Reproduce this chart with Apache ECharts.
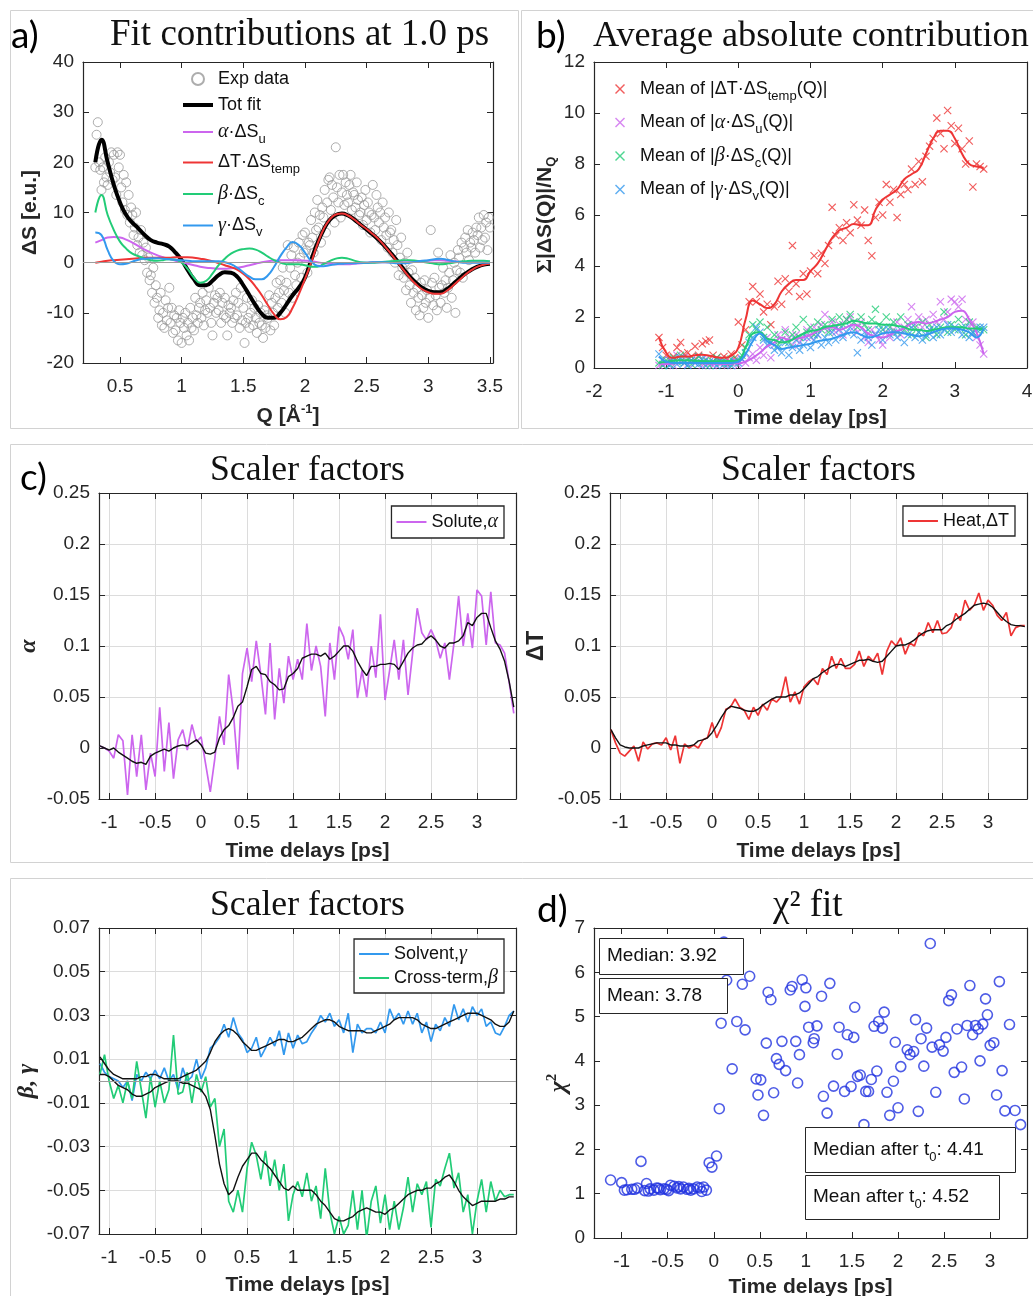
<!DOCTYPE html>
<html><head><meta charset="utf-8">
<script src="https://cdn.jsdelivr.net/npm/echarts@6/dist/echarts.min.js"></script>
<style>html,body{margin:0;padding:0;background:#fff}#chart{width:1033px;height:1296px}</style>
</head><body><div id="chart"></div>
<script>
// ---------------- DATA ----------------
// Panel a: experimental points (Q, dS)
const expQ = [
0.3,0.31,0.32,0.33,0.34,0.35,0.36,0.37,0.38,0.39,
0.4,0.41,0.42,0.43,0.44,0.45,0.46,0.47,0.48,0.49,
0.5,0.51,0.52,0.53,0.54,0.55,0.56,0.57,0.58,0.59,
0.6,0.61,0.62,0.63,0.64,0.65,0.66,0.67,0.68,0.69,
0.7,0.71,0.72,0.73,0.74,0.75,0.76,0.77,0.78,0.79,
0.8,0.81,0.82,0.83,0.84,0.85,0.86,0.87,0.88,0.89,
0.9,0.91,0.92,0.93,0.94,0.95,0.96,0.97,0.98,0.99,
1,1.01,1.02,1.03,1.04,1.05,1.06,1.07,1.08,1.09,
1.1,1.11,1.12,1.13,1.14,1.15,1.16,1.17,1.18,1.19,
1.2,1.21,1.22,1.23,1.24,1.25,1.26,1.27,1.28,1.29,
1.3,1.31,1.32,1.33,1.34,1.35,1.36,1.37,1.38,1.39,
1.4,1.41,1.42,1.43,1.44,1.45,1.46,1.47,1.48,1.49,
1.5,1.51,1.52,1.53,1.54,1.55,1.56,1.57,1.58,1.59,
1.6,1.61,1.62,1.63,1.64,1.65,1.66,1.67,1.68,1.69,
1.7,1.71,1.72,1.73,1.74,1.75,1.76,1.77,1.78,1.79,
1.8,1.81,1.82,1.83,1.84,1.85,1.86,1.87,1.88,1.89,
1.9,1.91,1.92,1.93,1.94,1.95,1.96,1.97,1.98,1.99,
2,2.01,2.02,2.03,2.04,2.05,2.06,2.07,2.08,2.09,
2.1,2.11,2.12,2.13,2.14,2.15,2.16,2.17,2.18,2.19,
2.2,2.21,2.22,2.23,2.24,2.25,2.26,2.27,2.28,2.29,
2.3,2.31,2.32,2.33,2.34,2.35,2.36,2.37,2.38,2.39,
2.4,2.41,2.42,2.43,2.44,2.45,2.46,2.47,2.48,2.49,
2.5,2.51,2.52,2.53,2.54,2.55,2.56,2.57,2.58,2.59,
2.6,2.61,2.62,2.63,2.64,2.65,2.66,2.67,2.68,2.69,
2.7,2.71,2.72,2.73,2.74,2.75,2.76,2.77,2.78,2.79,
2.8,2.81,2.82,2.83,2.84,2.85,2.86,2.87,2.88,2.89,
2.9,2.91,2.92,2.93,2.94,2.95,2.96,2.97,2.98,2.99,
3,3.01,3.02,3.03,3.04,3.05,3.06,3.07,3.08,3.09,
3.1,3.11,3.12,3.13,3.14,3.15,3.16,3.17,3.18,3.19,
3.2,3.21,3.22,3.23,3.24,3.25,3.26,3.27,3.28,3.29,
3.3,3.31,3.32,3.33,3.34,3.35,3.36,3.37,3.38,3.39,
3.4,3.41,3.42,3.43,3.44,3.45,3.46,3.47,3.48,3.49,
3.5];
const expS = [
19,25.5,28,20,18.5, 14.5,19,16,21,17,
15.5,20,18,22,16.5, 21.5,17,13.5,22,19,
21.5,15,12,17.5,10.5, 16,9.5,13.5,8,11,
9.5,5.5,7,10,3.5, 5,2,6.5,1.5,4,
0.5,3,-2,1,-3.5, -2.5,-6,-1,-8,-4.5,
-7,-11,-9.5,-6,-12.5, -10,-13,-7.5,-11.5,-9,
-5,-12,-9,-14,-10.5, -13.5,-11,-15.5,-9.5,-12,
-16,-11,-13,-10,-14.5, -12,-15.5,-9,-13,-11,
-13.5,-7,-10.5,-12,-9, -8,-11,-6,-12.5,-9.5,
-7.5,-10,-5,-9,-12, -14.5,-8,-6.5,-10,-7,
-9.5,-6,-12,-8,-10.5, -7,-11,-14.5,-8.5,-10,
-9,-12,-7.5,-11,-6, -10.5,-8,-13,-5,-11.5,
-9,-16,-12,-7,-11, -13,-10,-7.5,-12.5,-9,
-11,-14,-8.5,-12,-10, -12.5,-15,-9.5,-13,-10.5,
-11,-6.5,-13.5,-8,-10, -12.5,-7,-4,-9,-6,
-3.5,-8,-1,-5.5,-10, -4,3.5,-6,-1,1.5,
-7,3,-2.5,-4.5,0, 4,1,-3,5.5,2,
6,2.5,-2,4,3.5, 8.5,5,2,10,6.5,
12.5,7,9.5,4,11, 9,14.5,6,12,16.5,
17,10.5,15.5,13,8, 23,15,12,17.5,9,
14,17.5,11.5,16,13.5, 12,15.5,17.5,10.5,14,
13.5,11,16,12.5,9.5, 10,13,7.5,11.5,14.5,
8.5,12,10,6,9.5, 15.5,9,6.5,13.5,11,
8,10,4.5,12,7, 9,5.5,3,10,6,
6.5,2,4.5,0,8.5, 3.5,-2.5,1,5,-1,
-3,0,-5.5,2,-2, -4.5,-8,-1.5,-6,-3,
-9.5,-5,-7,-10.5,-4, -6.5,-9,-3.5,-8,-5.5,
-11,-7,6.5,-4,-8.5, -3,-6.5,-9.5,2,-5,
-8,-4.5,-1,-6,-3.5, -9,-5,-2,1.5,-7,
-3.5,0,-10,-1.5,2.5, 1,-2,4,-3,3,
5,2,6.5,0.5,4, 3,6,4.5,2,7,
5.5,9,3,7,4.5, 9.5,5,8,2.5,9,
7];

// Panel a: fit contributions on Q grid
const fitQ = [
0.3,0.35,0.4,0.45,0.5,0.55,0.6,0.65,0.7,0.75,
0.8,0.85,0.9,0.95,1,1.05,1.1,1.15,1.2,1.25,
1.3,1.35,1.4,1.45,1.5,1.55,1.6,1.65,1.7,1.75,
1.8,1.85,1.9,1.95,2,2.05,2.1,2.15,2.2,2.25,
2.3,2.35,2.4,2.45,2.5,2.55,2.6,2.65,2.7,2.75,
2.8,2.85,2.9,2.95,3,3.05,3.1,3.15,3.2,3.25,
3.3,3.35,3.4,3.45,3.5];
const totFit = [
20,24.5,20,15.5,12,9.5,8,6.8,5.5,4.5,
4,3.7,3.2,2,0.5,-1.5,-3.3,-4.5,-4.5,-3.6,
-2.5,-1.9,-2,-2.8,-4.5,-6.5,-8.5,-10.2,-11,-11,
-10,-8.3,-6.5,-5,-3,0.5,3.8,6.5,8.5,9.5,
9.8,9.4,8.6,7.6,6.6,5.6,4.5,3.2,1.8,0.3,
-1.3,-2.8,-4,-5,-5.6,-5.9,-5.9,-5.3,-4.3,-3.2,
-2.2,-1.4,-0.8,-0.4,-0.2];
const fitAlpha = [
4,4.5,5,5.1,5,4.6,4,3.3,2.6,2,
1.5,1.1,0.7,0.4,0.1,-0.2,-0.5,-0.8,-1,-1.1,
-1.2,-1.2,-1.1,-1,-0.8,-0.5,-0.2,0.1,0.3,0.4,
0.5,0.5,0.5,0.5,0.4,0.3,0.1,-0.1,-0.2,-0.3,
-0.3,-0.3,-0.2,-0.1,0,0.1,0.1,0.1,0.1,0.1,
0.1,0.1,0.2,0.3,0.4,0.5,0.5,0.4,0.3,0.2,
0.1,0.1,0.1,0.1,0.1];
const fitTemp = [
0,0.2,0.4,0.5,0.6,0.7,0.8,0.9,1,1,
1,1,1,1.1,1.1,1.1,1,0.8,0.6,0.3,
-0.1,-0.5,-0.9,-1.4,-2.2,-3.3,-4.8,-6.5,-8.5,-10.3,
-11.3,-10.9,-9,-6.3,-3.3,0,3.6,6.6,8.6,9.6,
9.8,9.4,8.6,7.6,6.7,5.7,4.6,3.2,1.7,0.1,
-1.5,-3,-4.3,-5.3,-5.9,-6.2,-6.2,-5.6,-4.6,-3.5,
-2.4,-1.5,-0.8,-0.4,-0.2];
const fitBeta = [
10,13.5,9.5,6.5,4.2,2.8,1.8,1.3,0.8,0.5,
0.4,0.5,0.7,0.6,0,-1.3,-3,-4,-3.6,-2.2,
-0.5,0.8,1.8,2.4,2.7,2.8,2.6,2,1.2,0.5,
0,-0.3,-0.3,-0.3,-0.5,-0.8,-0.8,-0.3,0.3,0.8,
1,0.8,0.4,0.1,0,0,0.1,0.2,0.3,0.4,
0.5,0.5,0.4,0.2,0,-0.2,-0.3,-0.2,0,0.2,
0.3,0.4,0.4,0.4,0.3];
const fitGamma = [
6,5.5,2.5,0.3,-0.3,-0.2,0.2,0.6,0.8,0.9,
0.9,0.8,0.7,0.6,0.5,0.4,0.3,0.3,0.3,0.3,
0.3,0.1,-0.3,-1,-1.9,-2.8,-3.3,-3.3,-2.5,-0.8,
1.3,3,4.1,3.5,2,0.3,-0.6,-0.7,-0.5,-0.3,
-0.2,-0.1,-0.1,0,0,0.1,0.1,0.1,0,-0.1,
-0.1,0,0.2,0.4,0.5,0.7,0.8,0.6,0.3,0.1,
0,0,0,0,0];

// Time grid (ps) for panels b, c and the beta/gamma panel
const tGrid = [
-1.1,-1.05,-1,-0.95,-0.9,-0.85,-0.8,-0.75,-0.7,-0.65,
-0.6,-0.55,-0.5,-0.45,-0.4,-0.35,-0.3,-0.25,-0.2,-0.15,
-0.1,-0.05,0,0.05,0.1,0.15,0.2,0.25,0.3,0.35,
0.4,0.45,0.5,0.55,0.6,0.65,0.7,0.75,0.8,0.85,
0.9,0.95,1,1.05,1.1,1.15,1.2,1.25,1.3,1.35,
1.4,1.45,1.5,1.55,1.6,1.65,1.7,1.75,1.8,1.85,
1.9,1.95,2,2.05,2.1,2.15,2.2,2.25,2.3,2.35,
2.4,2.45,2.5,2.55,2.6,2.65,2.7,2.75,2.8,2.85,
2.9,2.95,3,3.05,3.1,3.15,3.2,3.25,3.3,3.35,
3.4];

// Panel b: mean absolute contributions (crosses)
const bTemp = [
1.2,0.8,0.5,0.3,0.45,0.8,1.0,0.55,0.6,0.45,
0.85,0.5,0.95,1.05,1.1,0.5,0.4,0.3,0.45,0.35,
0.55,0.4,1.8,0.9,1.5,2.6,3.2,2.6,2.9,2.2,
2.5,1.7,2.4,3.4,2.5,3.5,3.0,4.8,3.3,2.8,
3.7,2.9,3.8,4.4,3.7,4.5,4.1,4.8,6.3,5.2,
5.5,5.0,5.7,5.3,6.4,5.8,5.6,6.2,5.0,4.4,
5.9,6.5,6.0,7.2,6.5,7.0,5.9,6.8,7.2,7.0,
7.8,7.2,8.1,7.3,8.3,8.7,9.0,9.8,9.2,8.6,
10.1,9.5,8.8,9.4,8.6,8.0,8.9,7.1,8.0,7.9,
7.8];
const bSolute = [
0.1,0.15,0.2,0.3,0.1,0.5,0.25,0.4,0.15,0.3,
0.2,0.45,0.1,0.35,0.2,0.1,0.3,0.15,0.25,0.1,
0.2,0.3,0.1,0.35,0.2,0.4,0.55,0.3,0.8,0.5,
1.2,0.4,0.9,1.3,1.1,1.5,1.2,0.9,1.3,1.0,
1.2,1.5,1.2,1.6,1.3,1.7,2.1,1.5,1.8,1.4,
1.7,1.3,1.9,2.0,1.6,1.4,1.8,1.2,1.0,1.5,
1.3,1.1,0.9,1.4,1.2,1.5,1.8,1.3,1.6,1.9,
2.4,1.7,2.0,1.6,1.9,1.5,2.1,1.8,2.6,1.9,
2.2,2.7,2.6,2.4,2.7,1.9,1.6,1.8,1.2,0.9,
0.55];
const bCross = [
0.2,0.1,0.3,0.15,0.4,0.25,0.5,0.2,0.35,0.15,
0.3,0.45,0.2,0.3,0.1,0.25,0.4,0.2,0.3,0.15,
0.35,0.2,0.3,0.5,0.8,1.3,1.7,1.5,1.8,1.2,
1.6,1.0,1.3,0.9,1.1,1.4,1.0,1.3,1.6,1.2,
1.9,1.4,1.6,1.3,1.8,1.5,1.7,1.4,1.9,1.6,
2.0,1.7,1.9,2.1,1.8,1.6,2.0,1.7,1.5,1.9,
2.3,1.7,1.5,2.0,1.6,1.8,1.4,2.0,1.5,1.7,
1.3,1.6,1.4,1.8,1.2,1.7,1.5,1.3,1.6,2.2,
1.4,1.7,1.5,1.9,1.6,1.3,1.8,1.4,1.6,1.5,
1.5];
const bSolvent = [
0.55,0.3,0.2,0.1,0.3,0.15,0.4,0.2,0.1,0.3,
0.2,0.15,0.35,0.1,0.25,0.2,0.1,0.3,0.15,0.2,
0.1,0.25,0.2,0.35,0.6,1.0,1.2,1.6,1.4,1.1,
0.9,1.0,0.7,0.8,0.6,1.0,0.5,0.8,1.1,0.7,
0.9,1.2,0.8,1.1,1.3,0.9,1.2,1.0,1.4,1.1,
1.5,1.2,1.4,1.6,1.3,0.6,1.1,1.4,1.2,0.9,
1.3,1.5,1.1,1.6,1.3,1.4,1.2,1.5,1.0,1.3,
1.6,1.2,1.4,1.1,1.3,1.5,1.2,1.6,1.3,1.5,
1.7,1.4,1.6,1.5,1.3,1.6,1.2,1.4,1.5,1.6,
1.6];
// Panel b: smoothed curves (coarser time grid)
const tCoarse = [
-1.1,-1,-0.9,-0.8,-0.7,-0.6,-0.5,-0.4,-0.3,-0.2,
-0.1,0,0.1,0.2,0.3,0.4,0.5,0.6,0.7,0.8,
0.9,1,1.1,1.2,1.3,1.4,1.5,1.6,1.7,1.8,
1.9,2,2.1,2.2,2.3,2.4,2.5,2.6,2.7,2.8,
2.9,3,3.1,3.2,3.3,3.4];
const bTempSm = [
1.2,0.6,0.4,0.45,0.45,0.5,0.52,0.48,0.42,0.4,
0.48,0.8,1.9,2.65,2.5,2.35,2.5,3.0,3.3,3.45,
3.45,3.8,4.1,4.6,5.1,5.4,5.5,5.65,5.6,5.6,
6.2,6.6,6.8,7.0,7.4,7.6,7.8,8.4,9.0,9.3,
9.3,9.0,8.4,8.0,7.9,7.85];
const bSoluteSm = [
0.15,0.15,0.18,0.2,0.2,0.2,0.18,0.17,0.17,0.16,
0.17,0.18,0.25,0.4,0.6,0.85,1.0,1.2,1.1,1.15,
1.2,1.3,1.45,1.55,1.6,1.5,1.6,1.7,1.6,1.35,
1.25,1.2,1.3,1.45,1.55,1.75,1.8,1.75,1.8,1.9,
2.0,2.2,2.25,1.9,1.4,0.55];
const bCrossSm = [
0.2,0.25,0.28,0.3,0.3,0.28,0.27,0.26,0.26,0.27,
0.27,0.3,0.8,1.35,1.4,1.15,1.1,1.0,1.05,1.2,
1.35,1.45,1.5,1.6,1.65,1.7,1.75,1.85,1.8,1.75,
1.75,1.7,1.7,1.65,1.6,1.5,1.5,1.45,1.5,1.55,
1.6,1.6,1.6,1.55,1.55,1.5];
const bSolventSm = [
0.45,0.25,0.2,0.2,0.2,0.2,0.2,0.2,0.2,0.2,
0.2,0.25,0.55,1.05,1.35,1.05,0.9,0.75,0.8,0.85,
0.9,0.95,1.05,1.1,1.15,1.25,1.35,1.4,1.3,1.2,
1.25,1.35,1.4,1.4,1.35,1.3,1.25,1.3,1.4,1.5,
1.55,1.55,1.5,1.4,1.2,1.55];

// Panel c: scaler factors alpha and dT (raw and running average)
const alphaRaw = [
0.002,0,-0.003,-0.01,0.013,0.007,-0.046,0.013,-0.028,0.013,
-0.041,-0.005,-0.028,0.04,-0.023,0.025,-0.03,0.008,0.018,-0.002,
0.023,0.006,0.011,-0.016,-0.043,-0.01,0.031,0.003,0.072,0.036,
-0.021,0.073,0.098,0.065,0.105,0.072,0.033,0.103,0.028,0.078,
0.044,0.09,0.067,0.087,0.067,0.122,0.076,0.1,0.08,0.031,
0.103,0.067,0.119,0.109,0.087,0.116,0.049,0.076,0.05,0.1,
0.069,0.131,0.047,0.076,0.106,0.067,0.106,0.052,0.093,0.137,
0.113,0.106,0.116,0.106,0.088,0.103,0.067,0.103,0.149,0.1,
0.132,0.098,0.155,0.149,0.101,0.153,0.103,0.101,0.093,0.064,
0.034];
const alphaAvg = [
0.002,0,-0.002,0,-0.004,-0.007,-0.01,-0.013,-0.015,-0.014,
-0.016,-0.008,-0.005,-0.003,-0.001,-0.003,0,0.002,0.003,0.002,
0.005,0.008,0.003,-0.005,-0.006,-0.004,0.01,0.018,0.022,0.03,
0.041,0.045,0.06,0.077,0.08,0.073,0.072,0.065,0.062,0.057,
0.058,0.07,0.073,0.078,0.088,0.09,0.092,0.092,0.09,0.093,
0.087,0.09,0.095,0.1,0.1,0.095,0.085,0.077,0.071,0.08,
0.08,0.082,0.082,0.083,0.082,0.077,0.085,0.093,0.098,0.101,
0.102,0.107,0.11,0.106,0.1,0.098,0.103,0.103,0.105,0.11,
0.123,0.12,0.128,0.132,0.132,0.118,0.105,0.097,0.085,0.065,
0.04];
const dTRaw = [
0.018,0.005,-0.005,-0.008,-0.003,0.002,-0.013,0.006,-0.001,0.004,
0.005,0.003,0.01,-0.002,0.012,-0.015,0.004,0,0.003,0,
0.008,0.01,0.025,0.01,0.02,0.038,0.04,0.048,0.04,0.037,
0.028,0.04,0.032,0.043,0.037,0.048,0.045,0.05,0.07,0.045,
0.055,0.043,0.06,0.065,0.068,0.062,0.078,0.072,0.09,0.078,
0.088,0.078,0.078,0.082,0.095,0.08,0.09,0.085,0.093,0.072,
0.095,0.105,0.1,0.108,0.092,0.103,0.1,0.113,0.11,0.123,
0.113,0.125,0.112,0.113,0.118,0.132,0.125,0.145,0.135,0.14,
0.152,0.135,0.145,0.14,0.13,0.125,0.133,0.11,0.118,0.12,
0.12];
const dTAvg = [
0.018,0.01,0.003,0.001,0,0,0,0.002,0.003,0.004,
0.005,0.005,0.005,0.003,0.003,0.002,0.002,0.002,0.003,0.007,
0.008,0.01,0.015,0.022,0.03,0.037,0.041,0.04,0.039,0.037,
0.036,0.036,0.038,0.042,0.045,0.048,0.05,0.05,0.05,0.052,
0.052,0.054,0.058,0.063,0.068,0.07,0.074,0.077,0.08,0.082,
0.082,0.08,0.082,0.084,0.086,0.086,0.087,0.085,0.084,0.085,
0.09,0.095,0.1,0.101,0.101,0.103,0.106,0.11,0.113,0.115,
0.116,0.116,0.116,0.12,0.122,0.126,0.129,0.132,0.136,0.14,
0.141,0.142,0.141,0.138,0.133,0.128,0.124,0.121,0.12,0.12,
0.119];
// Panel beta/gamma
const gammaRaw = [
0.008,0.004,0.002,0.001,0,-0.003,0,-0.009,0.003,0,
0.004,0.001,0.005,0.001,0.006,0,0.003,-0.004,0.006,0,
0.002,0.01,0.001,0.006,0.015,0.017,0.02,0.026,0.02,0.029,
0.022,0.019,0.013,0.015,0.02,0.011,0.015,0.02,0.016,0.023,
0.012,0.022,0.015,0.021,0.017,0.018,0.022,0.025,0.03,0.027,
0.031,0.025,0.028,0.022,0.031,0.013,0.026,0.022,0.024,0.024,
0.022,0.027,0.022,0.033,0.028,0.031,0.026,0.032,0.026,0.031,
0.022,0.027,0.018,0.026,0.023,0.029,0.025,0.035,0.028,0.033,
0.027,0.034,0.03,0.033,0.025,0.027,0.022,0.021,0.025,0.03,
0.032];
const gammaAvg = [
0.011,0.008,0.005,0.003,0.002,0.001,0.001,0.001,0.001,0.002,
0.002,0.003,0.003,0.002,0.001,0.001,0.001,0.001,0.002,0.003,
0.004,0.005,0.007,0.009,0.013,0.018,0.021,0.023,0.024,0.023,
0.021,0.018,0.016,0.014,0.014,0.015,0.016,0.017,0.018,0.019,
0.019,0.018,0.018,0.019,0.02,0.022,0.024,0.026,0.027,0.028,
0.028,0.027,0.025,0.024,0.023,0.023,0.023,0.023,0.022,0.022,
0.023,0.024,0.025,0.026,0.028,0.029,0.029,0.029,0.029,0.028,
0.026,0.025,0.024,0.024,0.025,0.026,0.027,0.028,0.029,0.03,
0.031,0.031,0.031,0.03,0.029,0.028,0.026,0.025,0.025,0.027,
0.032];
const betaRaw = [
0.003,0.012,0,-0.008,-0.002,-0.01,0,-0.008,0.009,-0.004,
-0.017,0.002,-0.012,0,-0.01,-0.004,0.021,-0.006,-0.005,0.004,
-0.01,0.003,-0.005,0.002,-0.012,-0.008,-0.03,-0.022,-0.055,-0.06,
-0.05,-0.06,-0.04,-0.028,-0.034,-0.045,-0.032,-0.048,-0.036,-0.05,
-0.038,-0.064,-0.052,-0.046,-0.053,-0.042,-0.055,-0.048,-0.063,-0.04,
-0.06,-0.07,-0.062,-0.07,-0.066,-0.05,-0.068,-0.05,-0.072,-0.055,
-0.048,-0.065,-0.052,-0.068,-0.055,-0.068,-0.058,-0.044,-0.06,-0.047,
-0.052,-0.046,-0.067,-0.045,-0.048,-0.04,-0.033,-0.049,-0.042,-0.06,
-0.052,-0.07,-0.055,-0.045,-0.06,-0.046,-0.055,-0.05,-0.053,-0.052,
-0.052];
const betaAvg = [
0.003,0.003,0.002,0,-0.002,-0.003,-0.004,-0.006,-0.007,-0.007,
-0.006,-0.005,-0.003,-0.002,-0.001,0,0,0,-0.001,-0.001,
-0.002,-0.003,-0.004,-0.007,-0.013,-0.025,-0.038,-0.047,-0.052,-0.05,
-0.044,-0.039,-0.036,-0.033,-0.033,-0.036,-0.038,-0.04,-0.043,-0.046,
-0.049,-0.05,-0.048,-0.05,-0.05,-0.05,-0.05,-0.052,-0.055,-0.057,
-0.06,-0.063,-0.064,-0.064,-0.063,-0.062,-0.06,-0.059,-0.058,-0.059,
-0.06,-0.06,-0.061,-0.059,-0.058,-0.056,-0.054,-0.052,-0.051,-0.05,
-0.05,-0.049,-0.049,-0.047,-0.046,-0.044,-0.043,-0.046,-0.05,-0.053,
-0.055,-0.057,-0.056,-0.055,-0.055,-0.055,-0.055,-0.054,-0.054,-0.053,
-0.053];

// Panel d: chi^2 per time delay
const chiT = [
-1.12,-1.0,-0.97,-0.94,-0.89,-0.86,-0.83,-0.79,-0.75,-0.73,
-0.71,-0.69,-0.65,-0.62,-0.6,-0.58,-0.54,-0.51,-0.49,-0.47,
-0.43,-0.4,-0.38,-0.36,-0.33,-0.29,-0.27,-0.25,-0.22,-0.18,
-0.15,-0.13,-0.11,-0.08,-0.05,-0.02,0.03,0.06,0.08,0.11,
0.14,0.2,0.22,0.25,0.31,0.34,0.39,0.46,0.48,0.51,
0.54,0.57,0.59,0.62,0.65,0.68,0.71,0.74,0.78,0.83,
0.85,0.89,0.91,0.93,0.96,0.99,1.0,1.03,1.08,1.09,
1.12,1.17,1.19,1.23,1.26,1.3,1.34,1.36,1.42,1.45,
1.49,1.52,1.53,1.56,1.59,1.63,1.65,1.68,1.71,1.74,
1.77,1.79,1.83,1.85,1.88,1.91,1.95,1.97,2.0,2.03,
2.1,2.13,2.17,2.19,2.22,2.25,2.28,2.31,2.35,2.37,
2.41,2.45,2.49,2.52,2.55,2.58,2.61,2.64,2.69,2.72,
2.75,2.78,2.81,2.84,2.87,2.89,2.92,2.95,2.97,3.0,
3.04,3.07,3.1,3.13,3.16,3.21,3.27,3.33];
const chiV = [
1.31,1.25,1.08,1.09,1.1,1.1,1.13,1.73,1.07,1.23,
1.06,1.11,1.08,1.13,1.12,1.09,1.11,1.1,1.07,1.19,
1.17,1.13,1.16,1.11,1.15,1.1,1.12,1.08,1.11,1.15,
1.13,1.05,1.15,1.08,1.7,1.6,1.85,2.92,4.85,6.68,
5.82,3.82,6.14,4.89,5.73,4.7,5.91,3.59,3.23,3.57,
2.77,4.4,5.55,5.38,3.28,4.05,3.92,4.44,3.78,5.6,
5.68,4.44,3.5,4.14,5.83,5.23,5.65,4.76,4.41,4.5,
4.79,5.46,3.2,2.82,5.75,3.43,4.15,4.76,3.31,4.59,
3.42,4.53,5.21,3.65,3.68,2.56,3.31,3.31,3.58,4.78,
3.77,4.89,4.74,5.1,3.29,2.77,3.54,4.42,2.94,3.87,
4.25,4.14,4.21,4.93,2.86,4.5,3.88,4.74,6.65,4.31,
3.29,4.36,4.22,4.53,5.36,5.49,3.74,4.72,3.86,3.14,
4.8,5.7,4.59,4.8,4.72,4.0,4.83,5.4,5.04,4.35,
4.41,3.23,5.79,3.78,2.87,4.82,2.88,2.56];
const chiStats = ['Median: 3.92', 'Mean: 3.78', 'Median after t0: 4.41', 'Mean after t0: 4.52'];

// Tick label lists
const qTicks = [0.5,1,1.5,2,2.5,3,3.5];
const tTicks = [-1,-0.5,0,0.5,1,1.5,2,2.5,3];

// ---------------- STYLE / LAYOUT ----------------
const SANS = '"Liberation Sans", Arial, Helvetica, sans-serif';
const SERIF = '"Liberation Serif", "Times New Roman", serif';
const AXC = '#262626';
const C_PUR = '#cc66ee', C_RED = '#ee3535', C_GRN = '#22cc77', C_BLU = '#3399ee';
const pairs = (xs, ys) => xs.map((x, i) => [x, ys[i]]);
const fmt = v => String(+v.toFixed(3));

const GRIDS = [
  {left:83, top:62, width:410, height:301},
  {left:594, top:62, width:433, height:306},
  {left:99, top:493, width:417, height:306},
  {left:610, top:493, width:417, height:306},
  {left:99, top:928, width:417, height:306},
  {left:594, top:928, width:433, height:310}
];

const boldName = {fontFamily:SANS, fontSize:21, fontWeight:'bold', color:AXC};

function mkX(gi, min, max, o) {
  const tick = {show:true, inside:true, length:6, lineStyle:{color:AXC, width:1}};
  if (o.ticks) tick.customValues = o.ticks;
  const common = {type:'value', gridIndex:gi, min:min, max:max,
    axisLine:{show:true, onZero:false, lineStyle:{color:AXC, width:1.2}}, axisTick:tick};
  if (o.interval) common.interval = o.interval;
  const lab = {show:true, color:AXC, fontFamily:SANS, fontSize:19, margin:14, formatter:fmt};
  if (o.ticks) lab.customValues = o.ticks;
  const bottom = Object.assign({}, common, {position:'bottom', axisLabel:lab,
    splitLine:{show:!!o.grid, lineStyle:{color:'#dcdcdc', width:1}},
    name:o.name, nameLocation:'middle', nameGap:o.nameGap, nameTextStyle:o.nameStyle || boldName});
  const top = Object.assign({}, common, {position:'top', axisLabel:{show:false}, splitLine:{show:false}});
  return [bottom, top];
}
function mkY(gi, min, max, interval, o) {
  const common = {type:'value', gridIndex:gi, min:min, max:max, interval:interval,
    axisLine:{show:true, onZero:false, lineStyle:{color:AXC, width:1.2}},
    axisTick:{show:true, inside:true, length:6, lineStyle:{color:AXC, width:1}}};
  const left = Object.assign({}, common, {position:'left',
    axisLabel:{show:true, color:AXC, fontFamily:SANS, fontSize:19, margin:9, formatter:fmt},
    splitLine:{show:!!o.grid, lineStyle:{color:'#dcdcdc', width:1}},
    name:o.name, nameLocation:'middle', nameGap:o.nameGap, nameTextStyle:o.nameStyle || boldName});
  const right = Object.assign({}, common, {position:'right', axisLabel:{show:false}, splitLine:{show:false}});
  return [left, right];
}

// measure text to centre titles
const mctx = document.createElement('canvas').getContext('2d');
function fitTitle(text, cx, cy, targetW) {
  mctx.font = '34px ' + SERIF;
  const w34 = mctx.measureText(text).width;
  let fs = Math.max(27, Math.min(37, 34 * targetW / w34));
  const w = w34 * fs / 34;
  return {text:text, left:Math.round(cx - w / 2), top:Math.round(cy - fs * 0.37), padding:0,
    textStyle:{fontFamily:SERIF, fontWeight:'normal', fontSize:fs, color:'#111'}};
}
function letter(t, x, y) {
  return {text:t, left:x, top:y, padding:0, textStyle:{fontFamily:'Lato, "Open Sans", sans-serif', fontWeight:'normal', fontSize:37, color:'#000'}};
}

const titles = [
  fitTitle('Fit contributions at 1.0 ps', 300, 31, 384),
  fitTitle('Average absolute contribution', 811, 31, 436),
  fitTitle('Scaler factors', 307, 466, 195),
  fitTitle('Scaler factors', 818, 466, 195),
  fitTitle('Scaler factors', 307, 901, 195),
  fitTitle('χ² fit', 808, 902, 90),
  letter('a)', 11, 18), letter('b)', 536, 18), letter('c)', 20, 460), letter('d)', 537, 892)
];

// rich styles
const RS = {
  n:{fontFamily:SANS, fontSize:18, color:'#111', lineHeight:22, verticalAlign:'middle'},
  nn:{fontFamily:SANS, fontSize:18, color:'#111', lineHeight:27, verticalAlign:'middle'},
  g:{fontFamily:SERIF, fontStyle:'italic', fontSize:20, color:'#111', lineHeight:27, verticalAlign:'middle'},
  gs:{fontFamily:SERIF, fontStyle:'italic', fontSize:20, color:'#111', lineHeight:22, verticalAlign:'middle'},
  s:{fontFamily:SANS, fontSize:13, color:'#111', lineHeight:13, verticalAlign:'bottom'}
};

const legendALabels = {
  'Exp data':'{n|Exp data}', 'Tot fit':'{n|Tot fit}',
  'α·ΔSu':'{g|α}{nn|·ΔS}{s|u}', 'ΔT·ΔStemp':'{nn|ΔT·ΔS}{s|temp}',
  'β·ΔSc':'{g|β}{nn|·ΔS}{s|c}', 'γ·ΔSv':'{g|γ}{nn|·ΔS}{s|v}'
};
const legendBLabels = {
  'Mean of |ΔT·ΔStemp(Q)|':'{nn|Mean of |ΔT·ΔS}{s|temp}{nn|(Q)|}',
  'Mean of |α·ΔSu(Q)|':'{nn|Mean of |}{g|α}{nn|·ΔS}{s|u}{nn|(Q)|}',
  'Mean of |β·ΔSc(Q)|':'{nn|Mean of |}{g|β}{nn|·ΔS}{s|c}{nn|(Q)|}',
  'Mean of |γ·ΔSv(Q)|':'{nn|Mean of |}{g|γ}{nn|·ΔS}{s|v}{nn|(Q)|}'
};
const legendCLabels = {
  'Solute, α':'{n|Solute,}{gs|α}', 'Heat, ΔT':'{n|Heat,ΔT}',
  'Solvent, γ':'{n|Solvent,}{gs|γ}', 'Cross-term, β':'{n|Cross-term,}{gs|β}'
};
// legend entry for a plain line (hide the symbol ECharts adds to line icons)
const lineEntry = (name, w) => ({name:name, itemStyle:{color:'rgba(0,0,0,0)', borderWidth:0, opacity:0},
  lineStyle:w ? {width:w} : undefined});

const XPATH = 'path://M0,1L1,0L5,4L9,0L10,1L6,5L10,9L9,10L5,6L1,10L0,9L4,5Z';

function fitLine(name, ys, color, width) {
  return {name:name, type:'line', xAxisIndex:0, yAxisIndex:0, data:pairs(fitQ, ys), smooth:true,
    showSymbol:false, symbol:'none', lineStyle:{color:color, width:width}, itemStyle:{color:color}, z:3};
}
function crossSeries(name, ys, color) {
  return {name:name, type:'scatter', xAxisIndex:2, yAxisIndex:2, data:pairs(tGrid, ys), symbol:XPATH,
    symbolSize:8, itemStyle:{color:color, opacity:0.8}, z:2};
}
function smLine(name, xs, ys, color, ax, width, smooth) {
  return {name:name, type:'line', xAxisIndex:ax, yAxisIndex:ax, data:pairs(xs, ys), smooth:!!smooth,
    showSymbol:false, symbol:'none', lineStyle:{color:color, width:width}, itemStyle:{color:color}, z:3};
}
const zeroLine = {silent:true, symbol:'none', animation:false, label:{show:false},
  lineStyle:{color:'#9c9c9c', width:1.2, type:'solid'}, data:[{yAxis:0}]};

const series = [
  // panel a
  {name:'Exp data', type:'scatter', xAxisIndex:0, yAxisIndex:0, data:pairs(expQ, expS), symbol:'circle',
    symbolSize:9, itemStyle:{color:'rgba(255,255,255,0)', borderColor:'#999', borderWidth:1}, z:2, markLine:zeroLine},
  fitLine('Tot fit', totFit, '#000', 4),
  fitLine('α·ΔSu', fitAlpha, C_PUR, 2),
  fitLine('ΔT·ΔStemp', fitTemp, C_RED, 2),
  fitLine('β·ΔSc', fitBeta, C_GRN, 2),
  fitLine('γ·ΔSv', fitGamma, C_BLU, 2),
  // panel b
  crossSeries('Mean of |ΔT·ΔStemp(Q)|', bTemp, C_RED),
  crossSeries('Mean of |α·ΔSu(Q)|', bSolute, C_PUR),
  crossSeries('Mean of |β·ΔSc(Q)|', bCross, C_GRN),
  crossSeries('Mean of |γ·ΔSv(Q)|', bSolvent, C_BLU),
  smLine('temp smoothed', tCoarse, bTempSm, C_RED, 2, 2, true),
  smLine('solute smoothed', tCoarse, bSoluteSm, C_PUR, 2, 2, true),
  smLine('cross smoothed', tCoarse, bCrossSm, C_GRN, 2, 2, true),
  smLine('solvent smoothed', tCoarse, bSolventSm, C_BLU, 2, 2, true),
  // panel c left / right
  smLine('Solute, α', tGrid, alphaRaw, C_PUR, 4, 1.7),
  smLine('alpha average', tGrid, alphaAvg, '#111', 4, 1.4),
  smLine('Heat, ΔT', tGrid, dTRaw, C_RED, 6, 1.7),
  smLine('dT average', tGrid, dTAvg, '#111', 6, 1.4),
  // beta / gamma
  Object.assign(smLine('Solvent, γ', tGrid, gammaRaw, C_BLU, 8, 1.7), {markLine:zeroLine}),
  smLine('Cross-term, β', tGrid, betaRaw, C_GRN, 8, 1.7),
  smLine('gamma average', tGrid, gammaAvg, '#111', 8, 1.4),
  smLine('beta average', tGrid, betaAvg, '#111', 8, 1.4),
  // panel d
  {name:'chi2', type:'scatter', xAxisIndex:10, yAxisIndex:10, data:pairs(chiT, chiV), symbol:'circle',
    symbolSize:10, itemStyle:{color:'rgba(255,255,255,0)', borderColor:'#2233e0', borderWidth:1.6}, z:2}
];

const legBase = {orient:'vertical', padding:0, selectedMode:false, backgroundColor:'transparent',
  textStyle:{fontFamily:SANS, fontSize:18, color:'#111', rich:RS}};
const boxLeg = {itemWidth:30, itemHeight:12, padding:[6,6,6,4], borderColor:AXC, borderWidth:1.3,
  backgroundColor:'#fff', formatter:n => legendCLabels[n]};
const legends = [
  Object.assign({}, legBase, {data:[
      {name:'Exp data', icon:'circle'},
      lineEntry('Tot fit', 4), lineEntry('α·ΔSu', 2), lineEntry('ΔT·ΔStemp', 2), lineEntry('β·ΔSc', 2), lineEntry('γ·ΔSv', 2)],
    left:181, top:70, itemGap:8, itemWidth:30, itemHeight:12, formatter:n => legendALabels[n]}),
  Object.assign({}, legBase, {data:Object.keys(legendBLabels).map(n => ({name:n, icon:XPATH})),
    left:615, top:80, itemGap:10, itemWidth:10, itemHeight:10, formatter:n => legendBLabels[n],
    textStyle:{fontFamily:SANS, fontSize:18, color:'#111', rich:RS, padding:[0,0,0,10]}}),
  Object.assign({}, legBase, boxLeg, {data:[lineEntry('Solute, α')], right:529, top:506}),
  Object.assign({}, legBase, boxLeg, {data:[lineEntry('Heat, ΔT')], right:18, top:506}),
  Object.assign({}, legBase, boxLeg, {data:[lineEntry('Solvent, γ'), lineEntry('Cross-term, β')],
    right:529, top:939, itemGap:4, padding:[5,6,5,4]})
];

const statRich = {
  n:{fontFamily:SANS, fontSize:19, fill:'#111', color:'#111', lineHeight:28, verticalAlign:'middle'},
  s:{fontFamily:SANS, fontSize:13, fill:'#111', color:'#111', lineHeight:13, verticalAlign:'bottom'}
};
function statBox(x, y, w, h, richText) {
  return {type:'group', children:[
    {type:'rect', shape:{x:x + 0.5, y:y + 0.5, width:w, height:h}, style:{fill:'#fff', stroke:AXC, lineWidth:1}, z:10},
    {type:'text', x:x + 8, y:y + h / 2, z:11, style:{text:richText, rich:statRich, fill:'#111',
      verticalAlign:'middle', textVerticalAlign:'middle', align:'left', textAlign:'left'}}
  ]};
}
function frame(x, y, w, h) {
  return {type:'rect', silent:true, z:-5, shape:{x:x + 0.5, y:y + 0.5, width:w, height:h},
    style:{fill:'none', stroke:'#d2d2d2', lineWidth:1}};
}
const graphics = [
  frame(10, 10, 508, 418), frame(521, 10, 520, 418), frame(10, 444, 1030, 418), frame(10, 878, 1030, 430),
  statBox(599, 938, 144, 36, '{n|' + chiStats[0] + '}'),
  statBox(599, 978, 128, 35, '{n|' + chiStats[1] + '}'),
  statBox(805, 1127, 210, 45, '{n|Median after t}{s|0}{n|: 4.41}'),
  statBox(805, 1175, 194, 44, '{n|Mean after t}{s|0}{n|: 4.52}')
];

const nameRich = (extra) => Object.assign({}, boldName, {rich:Object.assign({
  b:{fontFamily:SANS, fontSize:21, fontWeight:'bold', color:AXC, lineHeight:26, verticalAlign:'middle'},
  bsup:{fontFamily:SANS, fontSize:13, fontWeight:'bold', color:AXC, lineHeight:13, verticalAlign:'top'},
  bs:{fontFamily:SANS, fontSize:13, fontWeight:'bold', color:AXC, lineHeight:13, verticalAlign:'bottom'},
  sg:{fontFamily:SERIF, fontSize:22, color:AXC, lineHeight:26, verticalAlign:'middle'},
  g:{fontFamily:SERIF, fontStyle:'italic', fontSize:24, color:AXC, lineHeight:28, verticalAlign:'middle'},
  sup:{fontFamily:SERIF, fontSize:15, color:AXC, lineHeight:15, verticalAlign:'top'},
  dt:{fontFamily:SANS, fontSize:23, color:AXC, lineHeight:26, verticalAlign:'middle'}
}, extra || {})});

const xAxes = [].concat(
  mkX(0, 0.2, 3.525, {ticks:qTicks, name:'{b|Q [Å}{bsup|-1}{b|]}', nameGap:40, nameStyle:nameRich()}),
  mkX(1, -2, 4, {interval:1, name:'Time delay [ps]', nameGap:40}),
  mkX(2, -1.11, 3.424, {ticks:tTicks, grid:true, name:'Time delays [ps]', nameGap:42}),
  mkX(3, -1.11, 3.424, {ticks:tTicks, grid:true, name:'Time delays [ps]', nameGap:42}),
  mkX(4, -1.11, 3.424, {ticks:tTicks, grid:true, name:'Time delays [ps]', nameGap:41}),
  mkX(5, -1.3, 3.4, {ticks:tTicks, name:'Time delays [ps]', nameGap:39})
);
const yAxes = [].concat(
  mkY(0, -20, 40, 10, {name:'ΔS [e.u.]', nameGap:42}),
  mkY(1, 0, 12, 2, {name:'{sg|Σ}{b||ΔS(Q)|/N}{bs|Q}', nameGap:36, nameStyle:nameRich()}),
  mkY(2, -0.05, 0.25, 0.05, {grid:true, name:'{g|α}', nameGap:56, nameStyle:nameRich()}),
  mkY(3, -0.05, 0.25, 0.05, {grid:true, name:'{dt|ΔT}', nameGap:60, nameStyle:nameRich()}),
  mkY(4, -0.07, 0.07, 0.02, {grid:true, name:'{g|β, γ}', nameGap:58, nameStyle:nameRich()}),
  mkY(5, 0, 7, 1, {name:'{g|χ}{sup|2}', nameGap:20, nameStyle:nameRich()})
);

const option = {
  animation:false,
  backgroundColor:'#ffffff',
  textStyle:{fontFamily:SANS},
  title:titles,
  grid:GRIDS.map(g => Object.assign({containLabel:false, outerBoundsMode:'none', show:false}, g)),
  xAxis:xAxes,
  yAxis:yAxes,
  legend:legends,
  graphic:graphics,
  series:series
};

const chart = echarts.init(document.getElementById('chart'), null, {renderer:'canvas'});
chart.setOption(option);
</script></body></html>
